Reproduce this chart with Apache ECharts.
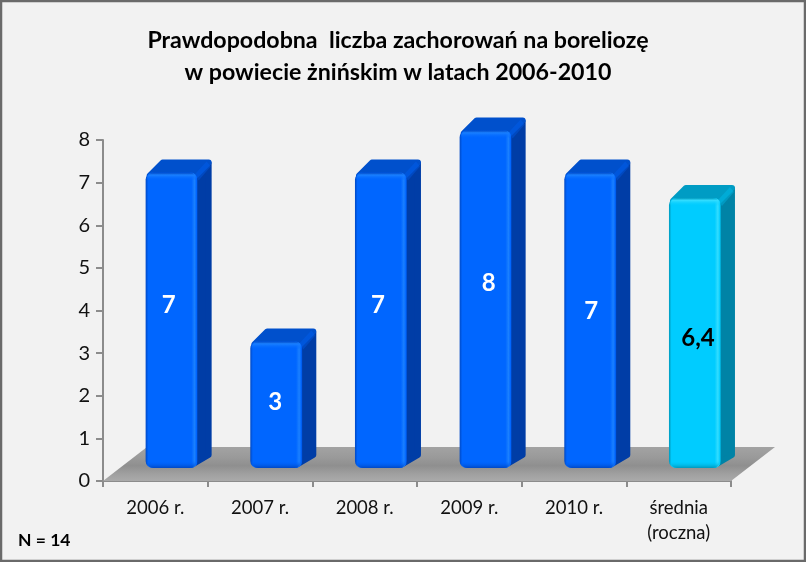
<!DOCTYPE html>
<html><head><meta charset="utf-8">
<style>html,body{margin:0;padding:0;background:#f2f2f2}#c{width:806px;height:562px}</style>
<script src="https://cdn.jsdelivr.net/npm/echarts@6/dist/echarts.min.js"></script>
</head><body><div id="c"></div>
<script>
const categories = ['2006 r.', '2007 r.', '2008 r.', '2009 r.', '2010 r.', 'średnia\n(roczna)'];
const values = [7, 3, 7, 8, 7, 6.4];
const yTicks = [0, 1, 2, 3, 4, 5, 6, 7, 8];
const titleLines = ['Prawdopodobna  liczba zachorowań na boreliozę', 'w powiecie żnińskim w latach 2006-2010'];
const noteText = 'N = 14';
const labelNudge = [[-3,-15],[-1,-2],[-3,-15],[3,-16],[1,-9],[3,5]];

const FONT = 'Lato, "Open Sans", sans-serif';
const palette = {
  blue: {l:'#0048c4', m:'#0066ff', h:'#1a80ff', top:'#0050cc', side:'#003da6', text:'#fff'},
  cyan: {l:'#0098bb', m:'#00ccff', h:'#33ddff', top:'#009cc4', side:'#0083a6', text:'#000'}
};
const hGrad = c => ({type:'linear',x:0,y:0,x2:1,y2:0,colorStops:[
  {offset:0,color:c.l},{offset:0.05,color:c.m},{offset:0.88,color:c.m},{offset:0.94,color:c.h},{offset:0.98,color:c.m},{offset:1,color:c.l}]});

function renderFloor(params, api){
  const g = params.coordSys, x0=g.x, x1=g.x+g.width, yb=g.y+g.height, dx=44, dy=34;
  return {type:'group',silent:true,children:[{
    type:'polygon',
    shape:{points:[[x0,yb],[x1,yb],[x1+dx,yb-dy],[x0+dx,yb-dy]]},
    style:{fill:{type:'linear',x:0,y:0,x2:0,y2:1,colorStops:[
      {offset:0,color:'#a3a3a3'},{offset:0.3,color:'#9a9a9a'},{offset:0.55,color:'#8f8f8f'},{offset:0.8,color:'#a0a0a0'},{offset:1,color:'#aaaaaa'}]}}
  }]};
}
function renderBar(params, api){
  const i = params.dataIndex, v = api.value(1);
  const cat = api.coord([i, 0]), zero = cat[1];
  const unit = zero - api.coord([i, 1])[1];
  const fx = cat[0] + 16.3, w = 52, dx = 14, dy = 13, r = 7;
  const base = zero - 13, top = base - v * unit * 0.99;
  const left = fx - w/2, right = fx + w/2;
  const c = i === 5 ? palette.cyan : palette.blue;
  const ins = 3;
  const n = labelNudge[i];
  return {type:'group',silent:true,children:[
    {type:'polygon',shape:{points:[[right-6,base-ins],[right+dx-ins,base-dy-ins+3],[right+dx-ins,top-dy+ins+1],[right-6,top+ins]]},
      style:{fill:c.side,stroke:c.side,lineWidth:ins*2,lineJoin:'round'}},
    {type:'polygon',shape:{points:[[left+ins+1,top+3],[left+dx+3,top-dy+ins],[right+dx-ins,top-dy+ins],[right-2,top+3]]},
      style:{fill:c.top,stroke:c.top,lineWidth:ins*2,lineJoin:'round'}},
    {type:'polygon',shape:{points:[[right-3,top+2],[right+dx-5,top-dy+2],[right+dx-1,top-dy+7],[right+1,top+8]]},
      style:{fill:c.m,opacity:0.3}},
    {type:'rect',shape:{x:left,y:top,width:w,height:base-top,r:r},style:{fill:hGrad(c)}},
    {type:'rect',shape:{x:left+1,y:top,width:w-2,height:8,r:[r,r,0,0]},style:{fill:{type:'linear',x:0,y:0,x2:0,y2:1,colorStops:[
      {offset:0,color:c.l},{offset:0.3,color:c.h},{offset:1,color:c.m+'00'}]}}},
    {type:'rect',shape:{x:left+1,y:base-7,width:w-2,height:7,r:[0,0,r,r]},style:{fill:{type:'linear',x:0,y:0,x2:0,y2:1,colorStops:[
      {offset:0,color:c.m+'00'},{offset:1,color:c.l}]}}},
    {type:'text',x:fx+n[0],y:(top+base)/2+n[1],style:{
      text:String(v).replace('.',','),fill:c.text,font:'bold 24px '+FONT,align:'center',verticalAlign:'middle'}}
  ]};
}

const chart = echarts.init(document.getElementById('c'), null, {renderer:'canvas'});
chart.setOption({
  animation:false,
  backgroundColor:'#f2f2f2',
  title:{text:titleLines.join('\n'),left:393,top:20,textAlign:'center',
    textStyle:{fontFamily:FONT,fontWeight:'bold',fontSize:23.2,lineHeight:32,color:'#000'}},
  graphic:[
    {type:'rect',z:100,silent:true,shape:{x:1,y:1,width:804,height:560},style:{fill:'none',stroke:'#6a6a6a',lineWidth:2.5}},
    {type:'text',z:100,left:18,top:531,style:{text:noteText,font:'bold 17.5px '+FONT,fill:'#000'}}
  ],
  grid:{left:103,right:75,top:140,bottom:81},
  xAxis:{type:'category',data:categories,boundaryGap:true,
    axisLine:{lineStyle:{color:'#8c8c8c',width:2}},
    axisTick:{show:true,length:6,lineStyle:{color:'#8c8c8c',width:2}},
    axisLabel:{fontFamily:FONT,fontSize:18.5,color:'#111',margin:15,lineHeight:25,interval:0}},
  yAxis:{type:'value',min:yTicks[0],max:yTicks[yTicks.length-1],interval:1,
    axisLine:{show:true,lineStyle:{color:'#8c8c8c',width:2}},
    axisTick:{show:true,length:7,lineStyle:{color:'#8c8c8c',width:2}},
    splitLine:{show:false},
    axisLabel:{fontFamily:FONT,fontSize:20,color:'#111',margin:13}},
  series:[
    {type:'custom',z:1,clip:false,renderItem:renderFloor,data:[[0,0]]},
    {type:'custom',z:3,clip:false,renderItem:renderBar,encode:{x:0,y:1},
      data:values.map((v,i)=>[i,v])}
  ]
});
</script></body></html>
